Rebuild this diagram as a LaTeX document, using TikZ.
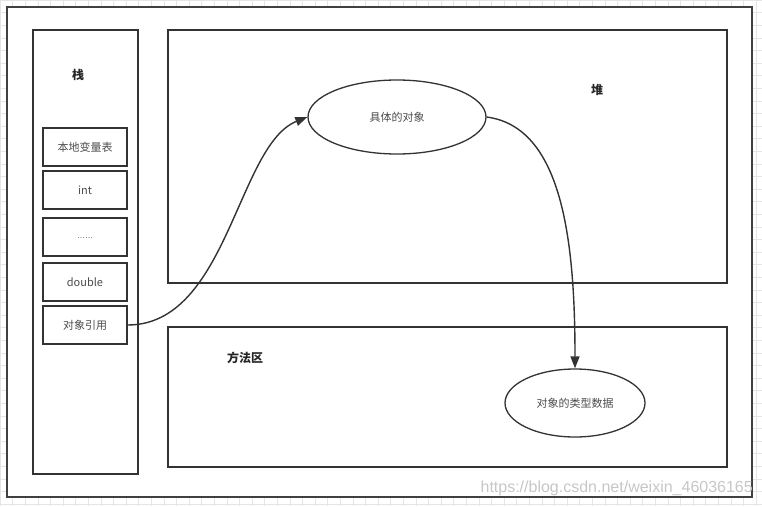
\documentclass[tikz,border=0pt]{standalone}
\usepackage{fontspec}
\setmainfont{Noto Sans CJK SC}
\newfontfamily\wmfont{Liberation Sans}
\usetikzlibrary{shapes.geometric,arrows.meta}

\tikzset{
	area/.style={draw=black!80,line width=1.3pt,fill=white},
	cell/.style={draw=black!80,line width=1.3pt,minimum width=84pt,minimum height=38pt,inner sep=0pt,text=black!70,font=\fontsize{11}{12}\selectfont},
	blob/.style={ellipse,draw=black!80,line width=1.3pt,inner sep=0pt,text=black!70,font=\fontsize{11}{12}\selectfont},
	title/.style={font=\fontsize{12}{13}\selectfont\bfseries,text=black!85},
	link/.style={draw=black!80,line width=1.4pt,-{Triangle[length=12pt,width=9pt]}}
}

\begin{document}
\begin{tikzpicture}[x=1pt,y=-1pt]
	\useasboundingbox (0,0) rectangle (762,506);
	\draw[black!10,line width=0.6pt,step=12.6pt] (0,0) grid (762,506);
	\draw[area,draw=black!75] (7,7) rectangle (752,497);
	\draw[area] (33,30) rectangle (138,474);
	\draw[area] (168,30) rectangle (727,283);
	\draw[area] (168,327) rectangle (727,467);
	\node[title] (stacklbl) at (78,75) {栈};
	\node[title] (heaplbl) at (597,90) {堆};
	\node[title] (methodlbl) at (245,358) {方法区};
	\node[cell] (locals) at (85,147) {本地变量表};
	\node[cell] (intcell) at (85,190) {int};
	\node[cell,font=\wmfont\fontsize{8}{9}\selectfont] (dots) at (85,237) {\raisebox{-2.5pt}{……}};
	\node[cell] (dblcell) at (85,282) {double};
	\node[cell] (ref) at (85,325) {对象引用};
	\node[blob,minimum width=178pt,minimum height=74pt] (obj) at (397,117) {具体的对象};
	\node[blob,minimum width=140pt,minimum height=68pt] (cls) at (575,403) {对象的类型数据};
	\draw[link] (ref.east) .. controls +(100,0) and +(-70,28) .. (obj.west);
	\draw[link] (obj.east) .. controls +(75,10) and +(0,-130) .. (cls.north);
	\node[anchor=east,text=black!22,font=\wmfont\fontsize{16}{17}\selectfont,inner sep=0pt] (mark) at (753,488) {https://blog.csdn.net/weixin\_46036165};
\end{tikzpicture}
\end{document}
